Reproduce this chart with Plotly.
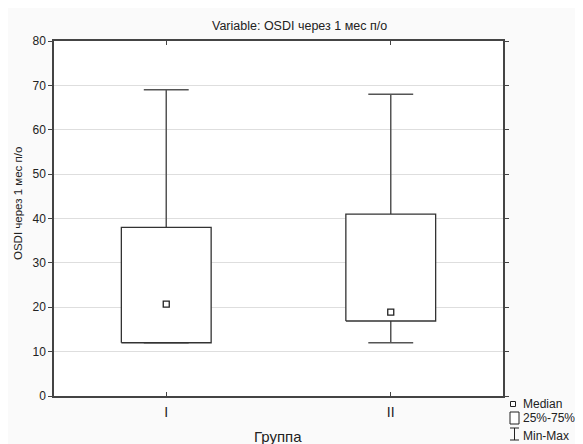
import plotly.graph_objects as go

groups = ["I", "II"]
minimum = [12, 12]
q1 = [12, 16.9]
median = [20.7, 18.9]
q3 = [38, 41]
maximum = [69, 68]
yticks = [0, 10, 20, 30, 40, 50, 60, 70, 80]

OFF = 8  # page body margin
W, H = 583 - OFF, 444 - OFF
L, T = 54 - OFF, 41 - OFF
pw, ph = 449, 355
R, B = W - L - pw, H - T - ph

def px(sx):
    return (sx - 54) / pw

def py(sy):
    return (396 - sy) / ph

fig = go.Figure()
half = 0.2
cap = 0.1
for i, g in enumerate(groups):
    fig.add_trace(go.Scatter(
        x=[i, i, None, i, i, None, i - cap, i + cap, None, i - cap, i + cap],
        y=[q3[i], maximum[i], None, q1[i], minimum[i], None,
           maximum[i], maximum[i], None, minimum[i], minimum[i]],
        mode="lines", line=dict(color="#555555", width=1.5),
        showlegend=False, hoverinfo="skip"))
    fig.add_trace(go.Scatter(
        x=[i - half, i + half, i + half, i - half, i - half],
        y=[q1[i], q1[i], q3[i], q3[i], q1[i]],
        mode="lines", fill="toself", fillcolor="white",
        line=dict(color="#333333", width=1.3),
        showlegend=False, hoverinfo="skip"))
    fig.add_trace(go.Scatter(
        x=[i], y=[median[i]], mode="markers",
        marker=dict(symbol="square", size=6, color="white",
                    line=dict(color="#222222", width=1.3)),
        showlegend=False, hoverinfo="skip"))

font = "Liberation Sans, Arial, sans-serif"
fig.update_layout(
    width=W, height=H,
    margin=dict(l=L, r=R, t=T, b=B, pad=0, autoexpand=False),
    paper_bgcolor="#fafafa", plot_bgcolor="white",
    font=dict(family=font, size=12, color="#222222"),
    showlegend=False,
)
fig.update_xaxes(
    range=[-0.5, 1.5], tickvals=list(range(len(groups))), ticktext=groups,
    showgrid=False, zeroline=False, showline=True, linecolor="#444444", linewidth=1.5,
    mirror="allticks", ticks="inside", ticklen=4, tickcolor="#444444",
    ticklabelstandoff=2, automargin=False,
    tickfont=dict(size=14),
)
fig.update_yaxes(
    range=[0, 80], tickvals=yticks, showgrid=True, gridcolor="#dedede", gridwidth=1,
    zeroline=False, showline=True, linecolor="#444444", linewidth=1.5,
    mirror="allticks", ticks="outside", ticklen=4, tickcolor="#444444",
    automargin=False,
    tickfont=dict(size=12),
)

shapes = [
    dict(type="rect", xref="paper", yref="paper",
         x0=px(510.5), x1=px(515.5), y0=py(406.5), y1=py(401.5),
         line=dict(color="#222222", width=1), fillcolor="white"),
    dict(type="rect", xref="paper", yref="paper",
         x0=px(510), x1=px(519), y0=py(424), y1=py(412),
         line=dict(color="#222222", width=1), fillcolor="white"),
    dict(type="line", xref="paper", yref="paper",
         x0=px(514.5), x1=px(514.5), y0=py(440), y1=py(428),
         line=dict(color="#222222", width=1)),
    dict(type="line", xref="paper", yref="paper",
         x0=px(510), x1=px(519), y0=py(428), y1=py(428),
         line=dict(color="#222222", width=1)),
    dict(type="line", xref="paper", yref="paper",
         x0=px(510), x1=px(519), y0=py(440), y1=py(440),
         line=dict(color="#222222", width=1)),
]
annotations = [
    dict(text="Variable: OSDI через 1 мес п/о", xref="paper", yref="paper",
         x=px(299.5), y=py(26), xanchor="center", yanchor="middle",
         showarrow=False, font=dict(size=12.5, color="#222222")),
    dict(text="OSDI через 1 мес п/о", xref="paper", yref="paper",
         x=px(18), y=py(204), xanchor="center", yanchor="middle", textangle=-90,
         showarrow=False, font=dict(size=11.5, color="#222222")),
    dict(text="Группа", xref="paper", yref="paper",
         x=px(278), y=py(436), xanchor="center", yanchor="middle",
         showarrow=False, font=dict(size=15, color="#222222")),
]
legend_text = [("Median", 404), ("25%-75%", 418.5), ("Min-Max", 435.5)]
for txt, yy in legend_text:
    annotations.append(dict(text=txt, xref="paper", yref="paper",
                            x=px(521), y=py(yy), xanchor="left", yanchor="middle",
                            showarrow=False, font=dict(size=12, color="#222222")))
fig.update_layout(shapes=shapes, annotations=annotations)

fig.write_html("out.html")
